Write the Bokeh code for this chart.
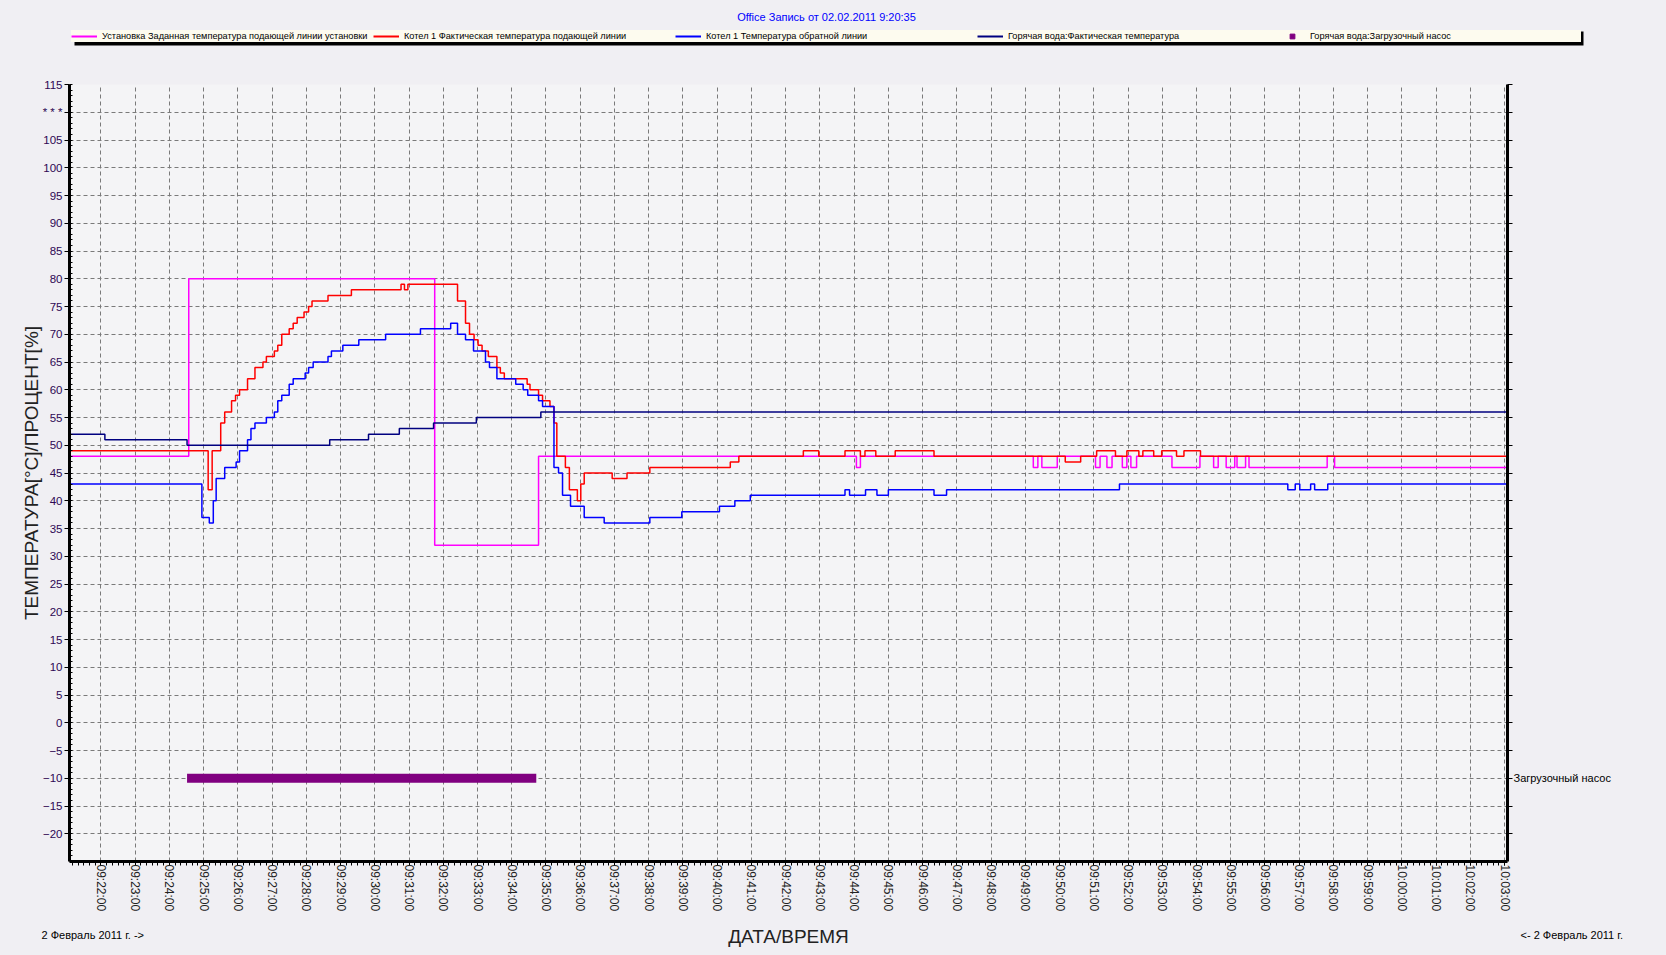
import pandas as pd
from bokeh.plotting import figure
from bokeh.layouts import column
from bokeh.models import (ColumnDataSource, Range1d, FixedTicker, DatetimeTickFormatter,
                          LinearAxis, Legend, LegendItem, Label, BoxAnnotation)
from bokeh.embed import file_html
from bokeh.resources import INLINE

# ---------------- data ----------------
DAY = "2011-02-02 "
T_START = "09:21:05"
T_END = "10:03:05"
Y_MIN, Y_MAX = -25, 115

TITLE = "Office Запись от 02.02.2011 9:20:35"
NAMES = [
    "Установка Заданная температура подающей линии установки",
    "Котел 1 Фактическая температура подающей линии",
    "Котел 1 Температура обратной линии",
    "Горячая вода:Фактическая температура",
    "Горячая вода:Загрузочный насос",
]
Y_LABEL = "ТЕМПЕРАТУРА[°C]/ПРОЦЕНТ[%]"
X_LABEL = "ДАТА/ВРЕМЯ"
DATE_LEFT = "2 Февраль 2011 г. ->"
DATE_RIGHT = "<- 2 Февраль 2011 г."
PUMP_LABEL = "Загрузочный насос"
PUMP_LEVEL = -10

Y_TICKS = list(range(-20, 116, 5))
Y_TICK_OVERRIDES = {110: "* * *"}
X_TICK_FIRST, X_TICK_LAST = "09:22:00", "10:03:00"

# setpoint (magenta)
setpoint_t = ["09:21:05", "09:24:34", "09:31:45", "09:34:47", "09:44:04", "09:44:11",
              "09:49:14", "09:49:22", "09:49:29", "09:49:56", "09:51:03", "09:51:11",
              "09:51:23", "09:51:32", "09:51:50", "09:51:58", "09:52:05", "09:52:15",
              "09:53:17", "09:54:06", "09:54:30", "09:54:38", "09:54:52", "09:55:07",
              "09:55:11", "09:55:26", "09:55:32", "09:57:49", "09:58:02"]
setpoint_v = [48, 80, 32, 48, 46, 48,
              46, 48, 46, 48, 46, 48,
              46, 48, 46, 48, 46, 48,
              46, 48, 46, 48, 46, 48,
              46, 48, 46, 48, 46]

# boiler 1 flow actual (red)
flow_t = ["09:21:05", "09:25:08", "09:25:15", "09:25:30", "09:25:37", "09:25:49", "09:25:56",
          "09:26:03", "09:26:17", "09:26:30", "09:26:44", "09:26:50", "09:27:04", "09:27:10",
          "09:27:17", "09:27:30", "09:27:37", "09:27:44", "09:27:56", "09:28:04", "09:28:10",
          "09:28:38", "09:29:19", "09:30:46", "09:30:52", "09:30:58", "09:32:25", "09:32:39",
          "09:32:46", "09:32:54", "09:33:01", "09:33:08", "09:33:19", "09:33:34", "09:33:40",
          "09:33:47", "09:34:27", "09:34:32", "09:34:47", "09:34:54", "09:35:07", "09:35:14",
          "09:35:19", "09:35:34", "09:35:41", "09:35:55", "09:36:01", "09:36:07", "09:36:56",
          "09:37:22", "09:38:02", "09:40:23", "09:40:38", "09:42:31", "09:42:58", "09:43:44",
          "09:44:11", "09:44:19", "09:44:38", "09:45:12", "09:46:20", "09:50:10", "09:50:37",
          "09:51:05", "09:51:38", "09:51:58", "09:52:19", "09:52:26", "09:52:45", "09:52:59",
          "09:53:25", "09:53:38", "09:54:07"]
flow_v = [49, 42, 49, 54, 56, 58, 59,
          60, 62, 64, 65, 66, 67, 68,
          70, 71, 72, 73, 74, 75, 76,
          77, 78, 79, 78, 79, 76, 72,
          70, 69, 68, 67, 66, 64, 63,
          62, 61, 60, 59, 58, 57, 54,
          48, 46, 42, 40, 43, 45, 44,
          45, 46, 47, 48, 49, 48, 49,
          48, 49, 48, 49, 48, 47, 48,
          49, 48, 49, 48, 49, 48, 49,
          48, 49, 48]

# boiler 1 return (blue)
return_t = ["09:21:05", "09:24:57", "09:25:10", "09:25:17", "09:25:22", "09:25:37", "09:25:57",
            "09:26:03", "09:26:17", "09:26:23", "09:26:30", "09:26:50", "09:27:04", "09:27:10",
            "09:27:17", "09:27:30", "09:27:37", "09:27:58", "09:28:04", "09:28:12", "09:28:38",
            "09:28:44", "09:29:04", "09:29:32", "09:30:19", "09:31:20", "09:32:13", "09:32:25",
            "09:32:39", "09:32:53", "09:33:14", "09:33:21", "09:33:34", "09:34:07", "09:34:20",
            "09:34:28", "09:34:47", "09:34:54", "09:35:14", "09:35:22", "09:35:29", "09:35:43",
            "09:36:07", "09:36:42", "09:38:02", "09:38:58", "09:40:04", "09:40:31", "09:40:58",
            "09:43:44", "09:43:52", "09:44:20", "09:44:40", "09:45:00", "09:46:20", "09:46:42",
            "09:51:45", "09:56:40", "09:56:53", "09:57:01", "09:57:20", "09:57:27", "09:57:50"]
return_v = [43, 37, 36, 40, 44, 46, 47,
            49, 51, 53, 54, 55, 56, 58,
            59, 61, 62, 63, 64, 65, 66,
            67, 68, 69, 70, 71, 72, 70,
            69, 67, 65, 64, 62, 61, 60,
            59, 58, 57, 46, 45, 41, 39,
            37, 36, 37, 38, 39, 40, 41,
            42, 41, 42, 41, 42, 41, 42,
            43, 42, 43, 42, 43, 42, 43]

# hot water actual (navy)
hotwater_t = ["09:21:05", "09:22:07", "09:24:31", "09:28:41", "09:29:49", "09:30:43",
              "09:31:43", "09:32:58", "09:34:51"]
hotwater_v = [52, 51, 50, 51, 52, 53, 54, 55, 56]

# hot water charging pump on-interval (purple bar)
pump_on = ["09:24:31"]
pump_off = ["09:34:43"]

COLORS = ["#ff00ff", "#ff0000", "#0000ff", "#000080", "#800080"]

# ---------------- helpers ----------------
def ts(lst):
    return pd.to_datetime([DAY + t for t in lst])

t_start = pd.Timestamp(DAY + T_START)
t_end = pd.Timestamp(DAY + T_END)

def step_source(times, vals):
    x = list(ts(times)) + [t_end]
    y = list(vals) + [vals[-1]]
    return ColumnDataSource(dict(x=x, y=y))

def ms(t):
    return t.value / 1e6

# layout (page px)
W = 1666
TOP_H, MAIN_H, BOT_H = 74, 847, 34
FL, FR = 69, 1507
BG = "#f0eff3"

src_set = step_source(setpoint_t, setpoint_v)
src_flow = step_source(flow_t, flow_v)
src_ret = step_source(return_t, return_v)
src_hw = step_source(hotwater_t, hotwater_v)
pump_src = ColumnDataSource(dict(left=list(ts(pump_on)), right=list(ts(pump_off)),
                                 y=[PUMP_LEVEL] * len(pump_on)))

# ---------------- main figure ----------------
p = figure(width=W, height=MAIN_H, x_axis_type="datetime",
           x_range=Range1d(t_start, t_end), y_range=Range1d(Y_MIN, Y_MAX),
           output_backend="svg", toolbar_location=None,
           min_border_left=FL, min_border_right=W - FR,
           min_border_top=10, min_border_bottom=60)
p.frame_align = False
p.background_fill_color = "#f4f4f6"
p.border_fill_color = BG
p.outline_line_color = None

x_major = pd.date_range(DAY + X_TICK_FIRST, DAY + X_TICK_LAST, freq="1min")
x_minor = pd.date_range(DAY + "09:21:10", DAY + "10:03:00", freq="10s")
x_ticker = FixedTicker(ticks=[ms(t) for t in x_major], minor_ticks=[ms(t) for t in x_minor])
y_ticker = FixedTicker(ticks=Y_TICKS, minor_ticks=list(range(Y_MIN, Y_MAX + 1)))

xa = p.xaxis[0]
xa.ticker = x_ticker
fmt = "%H:%M:%S"
xa.formatter = DatetimeTickFormatter(seconds=fmt, minsec=fmt, minutes=fmt, hourmin=fmt, hours=fmt)
xa.major_label_orientation = "vertical"
xa.axis_line_width = 3
xa.axis_line_color = "black"
xa.major_tick_out = 4
xa.major_tick_in = 0
xa.minor_tick_out = 4
xa.minor_tick_in = 0
xa.major_label_standoff = -1
xa.major_label_text_font = "Liberation Sans"
xa.major_label_text_font_size = "12px"
xa.major_label_text_color = "#222222"

ya = p.yaxis[0]
ya.ticker = y_ticker
ya.major_label_overrides = Y_TICK_OVERRIDES
ya.axis_line_width = 3
ya.axis_line_color = "black"
ya.major_tick_out = 5
ya.major_tick_in = 0
ya.minor_tick_in = 3
ya.minor_tick_out = 0
ya.major_label_standoff = 2
ya.major_label_text_font = "Liberation Sans"
ya.major_label_text_font_size = "11.5px"
ya.major_label_text_color = "#2e0854"
ya.axis_label = Y_LABEL
ya.axis_label_standoff = -2
ya.axis_label_text_font = "Liberation Sans"
ya.axis_label_text_font_style = "normal"
ya.axis_label_text_font_size = "19px"
ya.axis_label_text_color = "#222222"

right_labels = {v: "" for v in Y_TICKS}
right_labels[PUMP_LEVEL] = PUMP_LABEL
ra = LinearAxis(ticker=FixedTicker(ticks=Y_TICKS, minor_ticks=[]),
                major_label_overrides=right_labels)
ra.axis_line_width = 3
ra.axis_line_color = "black"
ra.major_tick_out = 5
ra.major_tick_in = 0
ra.minor_tick_out = 0
ra.minor_tick_in = 0
ra.major_label_standoff = 1
ra.major_label_text_font = "Liberation Sans"
ra.major_label_text_font_size = "11px"
ra.major_label_text_color = "black"
p.add_layout(ra, "right")

for g in (p.xgrid[0], p.ygrid[0]):
    g.grid_line_color = "#7a7a7a"
    g.grid_line_dash = "4 3"
    g.grid_line_width = 1
p.xgrid[0].ticker = x_ticker
p.ygrid[0].ticker = y_ticker

p.step("x", "y", source=src_set, mode="after", line_color=COLORS[0], line_width=1.5)
p.step("x", "y", source=src_flow, mode="after", line_color=COLORS[1], line_width=1.5)
p.step("x", "y", source=src_ret, mode="after", line_color=COLORS[2], line_width=1.5)
p.step("x", "y", source=src_hw, mode="after", line_color=COLORS[3], line_width=1.5)
p.hbar(y="y", left="left", right="right", height=1.65, source=pump_src,
       fill_color=COLORS[4], line_color=None)

# ---------------- strips (page-pixel coordinates) ----------------
def strip(height):
    f = figure(width=W, height=height, x_range=Range1d(0, W), y_range=Range1d(height, 0),
               x_axis_location=None, y_axis_location=None,
               output_backend="svg", toolbar_location=None,
               min_border_left=0, min_border_right=0, min_border_top=0, min_border_bottom=0)
    f.frame_align = False
    f.grid.visible = False
    f.outline_line_color = None
    f.background_fill_color = BG
    f.border_fill_color = BG
    return f

def add_label(f, text, x, y, size, align="left", color="black"):
    f.add_layout(Label(x=x, y=y, text=text, text_align=align, text_baseline="middle",
                       text_font="Liberation Sans", text_font_size=size, text_color=color))

top = strip(TOP_H)
# legend proxies: same series, far outside this strip's visible range
l_set = top.step("x", "y", source=src_set, mode="after", line_color=COLORS[0], line_width=2)
l_flow = top.step("x", "y", source=src_flow, mode="after", line_color=COLORS[1], line_width=2)
l_ret = top.step("x", "y", source=src_ret, mode="after", line_color=COLORS[2], line_width=2)
l_hw = top.step("x", "y", source=src_hw, mode="after", line_color=COLORS[3], line_width=2)
l_pump = top.scatter(x="left", y="y", source=pump_src, marker="square", size=8,
                     fill_color=COLORS[4], line_color=COLORS[4])

GLYPH_W, STANDOFF, LABEL_W, PAD = 26, 5, 271, 1
LEG_X, LEG_Y, LEG_H = 71, 28, 14
LEG_W = len(NAMES) * (GLYPH_W + STANDOFF + LABEL_W) + 2 * PAD
top.add_layout(BoxAnnotation(left=LEG_X + 3, right=LEG_X + LEG_W,
                             top=LEG_Y + 3, bottom=LEG_Y + LEG_H + 3,
                             fill_color="black", fill_alpha=1.0, line_color=None))
legend = Legend(items=[LegendItem(label=n, renderers=[r]) for n, r in
                       zip(NAMES, [l_set, l_flow, l_ret, l_hw, l_pump])],
                orientation="horizontal", location=(LEG_X, TOP_H - LEG_Y - LEG_H),
                margin=0, padding=PAD, spacing=0,
                glyph_width=GLYPH_W, glyph_height=12, label_height=12, label_width=LABEL_W,
                label_standoff=STANDOFF,
                label_text_font="Liberation Sans", label_text_font_size="9.2px",
                label_text_color="black",
                background_fill_color="#fdfbef", background_fill_alpha=1.0,
                border_line_color=None)
top.add_layout(legend)
add_label(top, TITLE, 826, 16, "11px", align="center", color="#0000ff")

bottom = strip(BOT_H)
add_label(bottom, X_LABEL, 788, 15, "19px", align="center", color="#222222")
add_label(bottom, DATE_LEFT, 41, 13, "11px")
add_label(bottom, DATE_RIGHT, 1520, 13, "11px")

layout = column(top, p, bottom, spacing=0)

html = file_html(layout, INLINE)
html = html.replace("</head>", "<style>html,body{background:#f0eff3;}</style></head>", 1)
open("out.html", "w").write(html)
